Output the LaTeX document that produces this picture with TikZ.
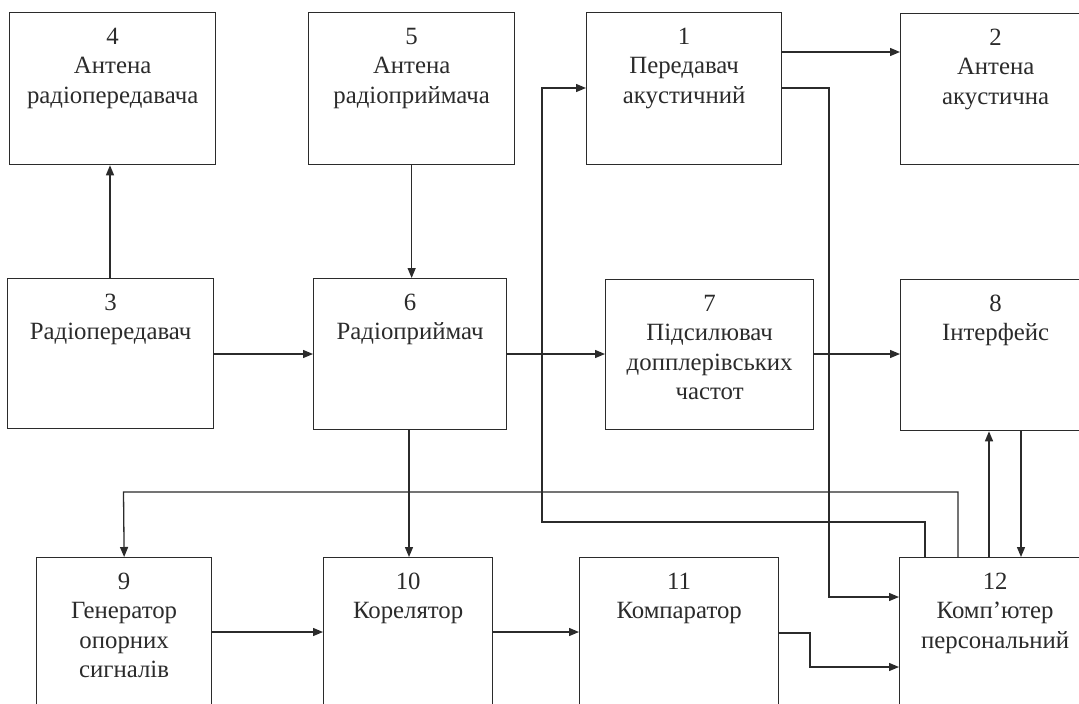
\documentclass[tikz,border=0pt]{standalone}
\usepackage{fontspec}
\setmainfont{Liberation Serif}
\usetikzlibrary{arrows.meta}
\definecolor{ink}{HTML}{2B2B2B}
\tikzset{
  box/.style={draw=ink, line width=1.3pt, rectangle, inner sep=0, anchor=north west},
  txt/.style={anchor=north, inner sep=0, align=center, text=ink,
              font=\fontsize{24.8}{29.5}\selectfont},
  conn/.style={draw=ink, line width=1.3pt},
  arr/.style={conn, -{Triangle[length=10pt,width=8pt]}}
}
\begin{document}
\begin{tikzpicture}[x=1pt,y=-1pt]
\clip (0,0) rectangle (1079,704);
\fill[white] (0,0) rectangle (1079,704);
% boxes: top-left corner, width, height
\node[box, minimum width=206pt, minimum height=152pt] (b4) at (9,12) {};
\node[box, minimum width=206pt, minimum height=152pt] (b5) at (308,12) {};
\node[box, minimum width=195pt, minimum height=152pt] (b1) at (586,12) {};
\node[box, minimum width=190pt, minimum height=151pt] (b2) at (900,13) {};
\node[box, minimum width=206pt, minimum height=150pt] (b3) at (7,278) {};
\node[box, minimum width=193pt, minimum height=151pt] (b6) at (313,278) {};
\node[box, minimum width=208pt, minimum height=150pt] (b7) at (605,279) {};
\node[box, minimum width=190pt, minimum height=151pt] (b8) at (900,279) {};
\node[box, minimum width=175pt, minimum height=160pt] (b9) at (36,557) {};
\node[box, minimum width=169pt, minimum height=160pt] (b10) at (323,557) {};
\node[box, minimum width=199pt, minimum height=160pt] (b11) at (579,557) {};
\node[box, minimum width=191pt, minimum height=160pt] (b12) at (899,557) {};
% texts
\node[txt] (t4) at ([yshift=-11.5pt]b4.north) {\strut 4\\\strut Антена\\\strut радіопередавача};
\node[txt] (t5) at ([yshift=-11.5pt]b5.north) {\strut 5\\\strut Антена\\\strut радіоприймача};
\node[txt] (t1) at ([yshift=-11.5pt]b1.north) {\strut 1\\\strut Передавач\\\strut акустичний};
\node[txt] (t2) at ([yshift=-11.5pt]b2.north) {\strut 2\\\strut Антена\\\strut акустична};
\node[txt] (t3) at ([yshift=-11.5pt]b3.north) {\strut 3\\\strut Радіопередавач};
\node[txt] (t6) at ([yshift=-11.5pt]b6.north) {\strut 6\\\strut Радіоприймач};
\node[txt] (t7) at ([yshift=-11.5pt]b7.north) {\strut 7\\\strut Підсилювач\\\strut допплерівських\\\strut частот};
\node[txt] (t8) at ([yshift=-11.5pt]b8.north) {\strut 8\\\strut Інтерфейс};
\node[txt] (t9) at ([yshift=-11.5pt]b9.north) {\strut 9\\\strut Генератор\\\strut опорних\\\strut сигналів};
\node[txt] (t10) at ([yshift=-11.5pt]b10.north) {\strut 10\\\strut Корелятор};
\node[txt] (t11) at ([yshift=-11.5pt]b11.north) {\strut 11\\\strut Компаратор};
\node[txt] (t12) at ([yshift=-11.5pt]b12.north) {\strut 12\\\strut Комп’ютер\\\strut персональний};
% connectors
\draw[arr] (110,0 |- b3.north) -- (110,0 |- b4.south);
\draw[arr] (b5.south) -- (b5.south |- b6.north);
\draw[arr] (b1.east |- 0,52) -- (b2.west |- 0,52);
\draw[arr] (b3.east |- 0,354) -- (b6.west |- 0,354);
\draw[arr] (b6.east |- 0,354) -- (b7.west |- 0,354);
\draw[arr] (b7.east |- 0,354) -- (b8.west |- 0,354);
\draw[arr] (409,0 |- b6.south) -- (409,0 |- b10.north);
\draw[arr] (b9.east |- 0,632) -- (b10.west |- 0,632);
\draw[arr] (b10.east |- 0,632) -- (b11.west |- 0,632);
\draw[arr] (b11.east |- 0,633) -- (810,633) -- (810,667) -- (b12.west |- 0,667);
\draw[arr] (b1.east |- 0,88) -- (829,88) -- (829,597) -- (b12.west |- 0,597);
\draw[arr] (925,0 |- b12.north) -- (925,522) -- (542,522) -- (542,88) -- (b1.west |- 0,88);
\draw[arr] (958,0 |- b12.north) -- (958,492) -- (123.5,492) -- (b9.north);
\draw[arr] (989,0 |- b12.north) -- (989,0 |- b8.south);
\draw[arr] (1021,0 |- b8.south) -- (1021,0 |- b12.north);
\end{tikzpicture}
\end{document}
